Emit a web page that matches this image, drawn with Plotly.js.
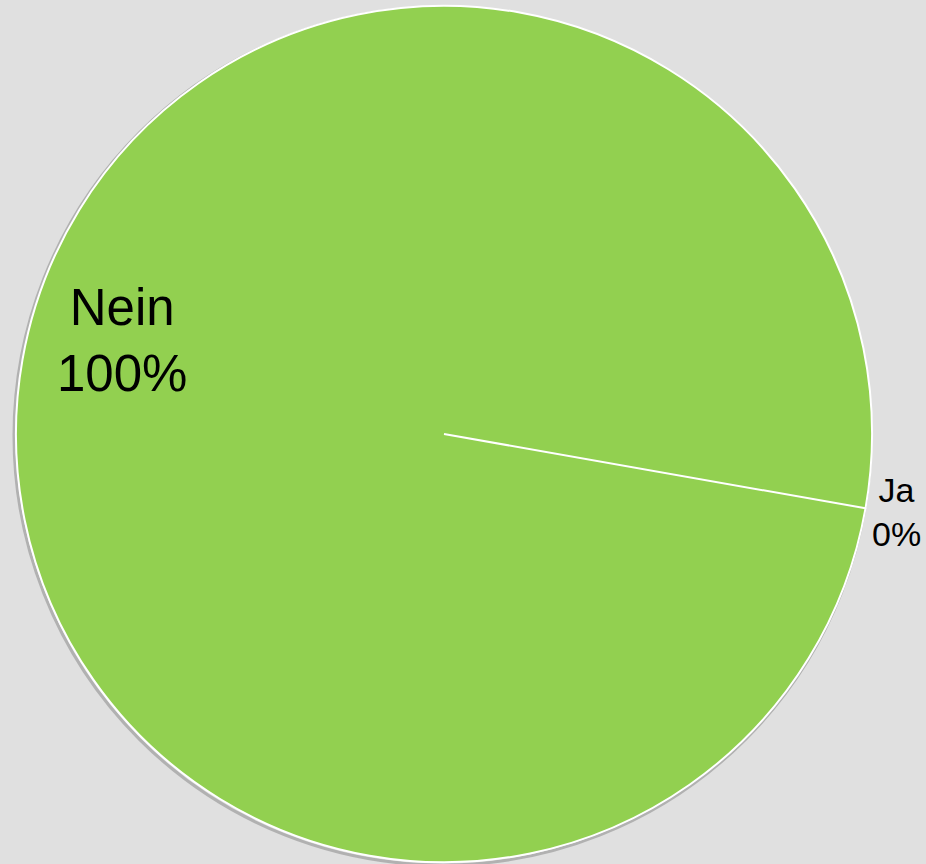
<!DOCTYPE html>
<html>
<head>
<meta charset="utf-8">
<script src="https://cdn.plot.ly/plotly-3.0.1.min.js"></script>
<style>
  html, body { margin: 0; padding: 0; background: #e0e0e0; }
  #chart { width: 926px; height: 864px; }
</style>
</head>
<body>
<div id="chart"></div>
<script>
// Antworten und Anzahl
const labels = ['Ja', 'Nein'];
const values = [0, 100];
const colors = ['#92d050', '#92d050'];

const W = 926, H = 864;
const cx = 444, cy = 434, r = 428;
const rot = 100; // start of first slice, degrees clockwise from 12 o'clock

const total = values.reduce((a, b) => a + b, 0);
const pct = values.map(v => Math.round(v / total * 100) + '%');
const font = 'Liberation Sans, Arial, sans-serif';

const pie = {
  type: 'pie',
  labels: labels,
  values: values,
  sort: false,
  direction: 'clockwise',
  rotation: rot,
  marker: { colors: colors, line: { color: '#ffffff', width: 2 } },
  textinfo: 'none',
  hoverinfo: 'label+percent',
  showlegend: false,
  domain: {
    x: [(cx - r) / W, (cx + r) / W],
    y: [(H - cy - r) / H, (H - cy + r) / H]
  }
};

// slice boundary of the empty "Ja" slice
const a = rot * Math.PI / 180;
const ex = cx + r * Math.sin(a), ey = cy - r * Math.cos(a);

const layout = {
  width: W,
  height: H,
  margin: { l: 0, r: 0, t: 0, b: 0 },
  paper_bgcolor: '#e0e0e0',
  plot_bgcolor: '#e0e0e0',
  showlegend: false,
  shapes: [
    {
      type: 'circle', xref: 'paper', yref: 'paper', layer: 'below',
      x0: (cx - r - 2) / W, x1: (cx + r - 1) / W,
      y0: 1 - (cy + r + 3) / H, y1: 1 - (cy - r + 1) / H,
      line: { color: 'rgba(120,120,120,0.45)', width: 3 }
    },
    {
      type: 'line', xref: 'paper', yref: 'paper', layer: 'above',
      x0: cx / W, y0: 1 - cy / H, x1: ex / W, y1: 1 - ey / H,
      line: { color: '#ffffff', width: 2 }
    }
  ],
  annotations: [
    {
      xref: 'paper', yref: 'paper',
      x: 122 / W, y: 1 - 340 / H, xanchor: 'center', yanchor: 'middle',
      text: labels[1] + '<br>' + pct[1],
      showarrow: false,
      font: { family: font, size: 51, color: '#000000' }
    },
    {
      xref: 'paper', yref: 'paper',
      x: 896 / W, y: 1 - 512 / H, xanchor: 'center', yanchor: 'middle',
      text: labels[0] + '<br>' + pct[0],
      showarrow: false,
      font: { family: font, size: 34, color: '#000000' }
    }
  ]
};

Plotly.newPlot('chart', [pie], layout, { displayModeBar: false, staticPlot: true });
</script>
</body>
</html>
